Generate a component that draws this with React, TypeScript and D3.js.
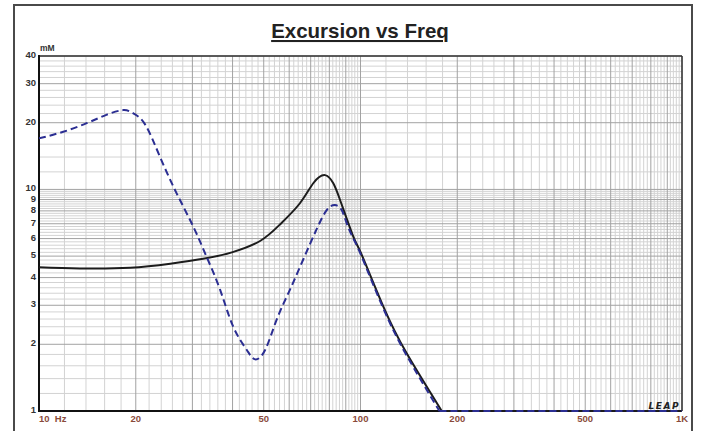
import * as d3 from "d3";
import * as React from "react";

// black (solid) excursion curve, mM vs Hz
const blackFreq = [10, 13.4, 19.2, 25.6, 32.4, 39.8, 48.7, 56.2, 64.8, 71.3, 77.6, 82.3, 86.4, 95, 100.4, 117.8, 139.2, 178.9];
const blackMM = [4.45, 4.4, 4.43, 4.62, 4.86, 5.2, 5.85, 6.95, 8.66, 10.66, 11.6, 10.66, 8.96, 6.12, 5.15, 2.96, 1.82, 1.0];

// blue (dashed) excursion curve
const blueFreq = [10, 11.9, 14.07, 16.2, 18.3, 19.65, 21.4, 23.8, 26.8, 30.2, 33.2, 36.6, 40.2, 44.3, 47, 50.5, 54.9, 60.4, 66.4, 73.1, 78.5, 83.3, 87.4, 90.6, 95, 100.4, 117.8, 139.2, 176];
const blueMM = [17.0, 18.2, 19.9, 21.7, 22.8, 22.05, 19.6, 14.0, 9.6, 6.79, 4.97, 3.52, 2.4, 1.885, 1.71, 1.885, 2.59, 3.54, 4.84, 6.63, 8.07, 8.5, 8.07, 7.03, 6.0, 5.05, 2.9, 1.78, 1.0];

// both curves sit on the 1 mM floor above their last point
const floorFreq = [1000];
const floorMM = [1];

const xTicks = [10, 20, 50, 100, 200, 500, 1000];
const xTickLabels = ["10  Hz", "20", "50", "100", "200", "500", "1K"];
const yTicks = [1, 2, 3, 4, 5, 6, 7, 8, 9, 10, 20, 30, 40];

const W = 701, H = 431;
const L = 39, R = 682, T = 56, B = 411;
const FONT = "Liberation Sans, Arial, sans-serif";

export default function App() {
  const x = d3.scaleLog().domain([10, 1000]).range([L, R]);
  const y = d3.scaleLog().domain([1, 40]).range([B, T]);

  // grid values
  const vGrid: number[] = [];
  for (let f = 10; f < 100; f += 2) vGrid.push(f);
  for (let f = 100; f <= 1000; f += 20) vGrid.push(f);
  const hGrid: number[] = [];
  for (let i = 10; i < 100; i += 2) hGrid.push(i / 10);
  for (let v = 10; v <= 40; v += 2) hGrid.push(v);

  const isMajorF = (f: number) => (f < 100 ? f % 10 === 0 : f % 100 === 0);
  const isMajorV = (v: number) => (v <= 10 ? Math.abs(v - Math.round(v)) < 1e-6 : v % 10 === 0);

  const curve = d3.line<[number, number]>()
    .x(d => x(d[0]))
    .y(d => y(Math.max(1, d[1])))
    .curve(d3.curveNatural);
  const flat = d3.line<[number, number]>()
    .x(d => x(d[0]))
    .y(d => y(Math.max(1, d[1])));

  const blackPts = blackFreq.map((f, i) => [f, blackMM[i]] as [number, number]);
  const bluePts = blueFreq.map((f, i) => [f, blueMM[i]] as [number, number]);
  const blackFloor = [blackPts[blackPts.length - 1], ...floorFreq.map((f, i) => [f, floorMM[i]] as [number, number])];
  const blueFloor = [bluePts[bluePts.length - 1], ...floorFreq.map((f, i) => [f, floorMM[i]] as [number, number])];

  return (
    <div style={{ position: "fixed", left: 0, top: 0 }}>
      <svg width={W} height={H} style={{ display: "block", background: "#fff" }}>
        <rect x={14} y={5} width={678} height={440} fill="#fff" stroke="#4a4a4a" strokeWidth={2} />
        <text x={360} y={38} textAnchor="middle" fontFamily={FONT} fontWeight="bold" fontSize={20.5} fill="#222" style={{ textDecoration: "underline" }}>Excursion vs Freq</text>

        <defs>
          <clipPath id="plotclip"><rect x={L} y={T - 1} width={R - L} height={B - T + 2} /></clipPath>
        </defs>

        {/* grid */}
        <g>
          {hGrid.filter(v => !isMajorV(v)).map((v, i) => (
            <line key={"hm" + i} x1={L} x2={R} y1={y(v)} y2={y(v)} stroke="#d3d3d3" strokeWidth={1} />
          ))}
          {vGrid.filter(f => !isMajorF(f)).map((f, i) => (
            <line key={"vm" + i} x1={x(f)} x2={x(f)} y1={T} y2={B} stroke="#d3d3d3" strokeWidth={1} />
          ))}
          {hGrid.filter(v => isMajorV(v)).map((v, i) => (
            <line key={"hM" + i} x1={L} x2={R} y1={y(v)} y2={y(v)} stroke="#a2a2a2" strokeWidth={1} />
          ))}
          {vGrid.filter(f => isMajorF(f)).map((f, i) => (
            <line key={"vM" + i} x1={x(f)} x2={x(f)} y1={T} y2={B} stroke="#a2a2a2" strokeWidth={1} />
          ))}
        </g>

        {/* frame */}
        <line x1={L} x2={R} y1={T} y2={T} stroke="#333" strokeWidth={1.5} />
        <line x1={R} x2={R} y1={T} y2={B} stroke="#333" strokeWidth={1.5} />
        <line x1={L} x2={L} y1={T - 1} y2={B + 1} stroke="#111" strokeWidth={2} />
        <line x1={L - 1} x2={R} y1={B} y2={B} stroke="#111" strokeWidth={2} />

        {/* curves */}
        <g clipPath="url(#plotclip)">
          <path d={curve(blackPts) || ""} fill="none" stroke="#1c1c1c" strokeWidth={2} />
          <path d={flat(blackFloor) || ""} fill="none" stroke="#1c1c1c" strokeWidth={2} />
          <path d={curve(bluePts) || ""} fill="none" stroke="#2b2e92" strokeWidth={2} strokeDasharray="7,4" />
          <path d={flat(blueFloor) || ""} fill="none" stroke="#2b2e92" strokeWidth={2} strokeDasharray="7,4" />
        </g>

        {/* y labels */}
        {yTicks.map(v => (
          <text key={"yl" + v} x={36} y={y(v) + 2} textAnchor="end" fontFamily={FONT} fontWeight="bold" fontSize={9.5} fill="#333">{v}</text>
        ))}
        <text x={40} y={51} fontFamily={FONT} fontWeight="bold" fontSize={8.5} fill="#333">mM</text>

        {/* x labels */}
        {xTicks.map((f, i) => (
          <text key={"xl" + f} x={i === 0 ? L : x(f)} y={422} textAnchor={i === 0 ? "start" : "middle"} fontFamily={FONT} fontWeight="bold" fontSize={9.5} fill="#8a4a3a" style={{ whiteSpace: "pre" }}>{xTickLabels[i]}</text>
        ))}

        <text x={680} y={409} textAnchor="end" fontFamily="DejaVu Sans, sans-serif" fontWeight="bold" fontStyle="italic" fontSize={9} letterSpacing={1.5} fill="#222">LEAP</text>
      </svg>
    </div>
  );
}
